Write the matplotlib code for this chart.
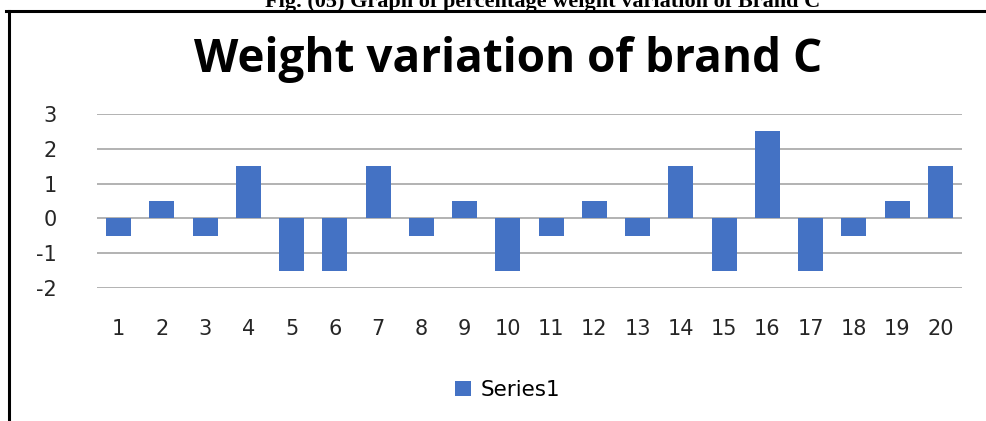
import matplotlib.pyplot as plt
from matplotlib.lines import Line2D

# datos
muestras = [str(i) for i in range(1, 21)]
variacion = [-0.5, 0.5, -0.5, 1.5, -1.5, -1.5, 1.5, -0.5, 0.5, -1.5,
             -0.5, 0.5, -0.5, 1.5, -1.5, 2.5, -1.5, -0.5, 0.5, 1.5]
y_ticks = [-2, -1, 0, 1, 2, 3]

plt.rcParams['font.family'] = ['DejaVu Sans']
plt.rcParams['axes.unicode_minus'] = False

fig = plt.figure(figsize=(9.86, 4.21), dpi=100)
W, H = 986, 421

# caption cortado arriba (como en la imagen original)
fig.text(543 / W, 1 - 2 / H, 'Fig. (05) Graph of percentage weight variation of Brand C',
         ha='center', va='center', fontsize=16, fontweight='bold',
         family='Liberation Serif')

# marco del grafico (borde superior e izquierdo)
fig.add_artist(Line2D([6 / W, 1], [1 - 11 / H, 1 - 11 / H], color='black', lw=2.2))
fig.add_artist(Line2D([9 / W, 9 / W], [0, 1 - 11 / H], color='black', lw=2.2))

ax = fig.add_axes([97 / W, 1 - 288 / H, (962 - 97) / W, (288 - 114) / H])
x = range(len(muestras))
ax.bar(x, variacion, width=0.58, color='#4472C4', label='Series1', zorder=3)
ax.set_xlim(-0.5, len(muestras) - 0.5)
ax.set_ylim(-2, 3)
ax.set_yticks(y_ticks)
ax.set_xticks(list(x))
ax.set_xticklabels(muestras)
ax.grid(axis='y', color='#A6A6A6', lw=1.2, zorder=0)
for s in ax.spines.values():
    s.set_visible(False)
ax.tick_params(length=0, labelsize=15, colors='#262626')
ax.tick_params(axis='x', pad=22)
ax.tick_params(axis='y', pad=29)

fig.text(508 / W, 1 - 72 / H, 'Weight variation of brand C', ha='center', va='baseline',
         fontsize=33, fontweight='bold', color='black', family='Open Sans')

fig.legend(loc='center', bbox_to_anchor=(508 / W, 1 - 390 / H), frameon=False,
           fontsize=15.5, handlelength=0.75, handleheight=0.75, handletextpad=0.45)

plt.savefig('out.png')
